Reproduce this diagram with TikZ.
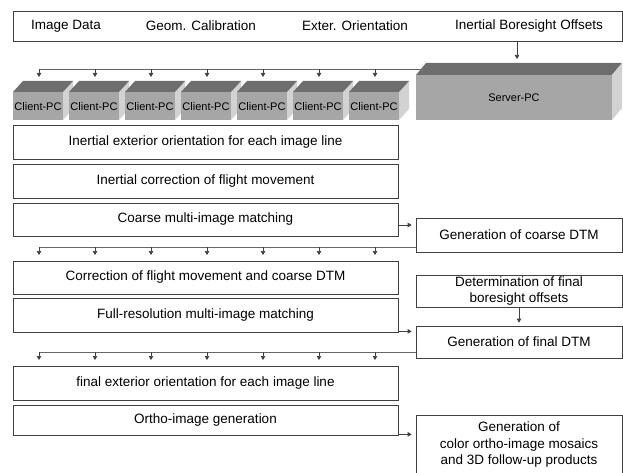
\documentclass[tikz,border=0pt]{standalone}
\usepackage{fontspec}
\setmainfont{Liberation Sans}
\usetikzlibrary{arrows.meta}
\definecolor{topc}{HTML}{6E6E6E}
\definecolor{frontc}{HTML}{A6A6A6}
\definecolor{sidec}{HTML}{D2D2D2}
\definecolor{linec}{HTML}{404040}
\begin{document}
\begin{tikzpicture}[x=1pt,y=-1pt,
  box/.style={draw=linec, line width=0.7pt, fill=white, inner sep=0pt, align=center,
    font=\fontsize{13.5}{16.5}\selectfont},
  lbox/.style={box, minimum width=385pt, minimum height=#1},
  rbox/.style={box, minimum width=206pt, minimum height=#1},
  txt/.style={inner sep=0pt, align=center, font=\fontsize{13.5}{16.5}\selectfont},
  pctxt/.style={inner sep=0pt, font=\fontsize{11}{13}\selectfont},
  arr/.style={draw=linec, line width=0.7pt, -{Triangle[length=4pt,width=4.5pt]}},
  ln/.style={draw=linec!80, line width=0.7pt}]
\useasboundingbox (0,0) rectangle (623,473);

% top input box
\node[box, minimum width=609pt, minimum height=30pt] (top) at (317.5,26) {};
\node[txt] (t1) at (66,26) {Image Data};
\node[txt] (t2) at (201,26) {Geom. Calibration};
\node[txt] (t3) at (355,26) {Exter. Orientation};
\node[txt] (t4) at (529,26) {Inertial Boresight Offsets};

% server
\fill[topc] (416,75) -- (426,63) -- (622,63) -- (612,75) -- cycle;
\fill[sidec] (612,75) -- (622,63) -- (622,108) -- (612,120) -- cycle;
\fill[frontc] (416,75) rectangle (612,120);
\node[pctxt] (server) at (514,98) {Server-PC};
\coordinate (srvtop) at (517,62);
\coordinate (srvedge) at (421,69);
\draw[arr, shorten >=3pt] (top.south -| srvtop) -- (srvtop);

% clients
\foreach \k in {0,...,6}{
  \pgfmathsetmacro{\xl}{13+56*\k}
  \fill[sidec] (\xl+50,92) -- (\xl+60,81) -- (\xl+60,109) -- (\xl+50,120) -- cycle;
  \fill[topc] (\xl,92) -- (\xl+10,81) -- (\xl+60,81) -- (\xl+50,92) -- cycle;
  \fill[frontc] (\xl,92) rectangle (\xl+50,120);
  \node[pctxt] (client\k) at (\xl+25,106.5) {Client-PC};
}
\coordinate (bus1) at (39,69);
\draw[ln] (bus1) -- (srvedge);
\foreach \k in {0,...,6}{
  \coordinate (ca\k) at (39+56*\k,69);
  \draw[arr] (ca\k) -- ++(0,8);
}

% left process boxes
\node[lbox=34pt] (b1) at (205.5,142) {Inertial exterior orientation for each image line};
\node[lbox=34pt] (b2) at (205.5,181) {Inertial correction of flight movement};
\node[lbox=33pt] (b3) at (205.5,219.5) {Coarse multi-image matching};
\node[lbox=33pt] (b5) at (205.5,277.5) {Correction of flight movement and coarse DTM};
\node[lbox=34pt] (b6) at (205.5,315) {Full-resolution multi-image matching};
\node[lbox=34pt] (b8) at (205.5,383) {final exterior orientation for each image line};
\node[lbox=30pt] (b9) at (205.5,420) {Ortho-image generation};

% right boxes
\node[rbox=34pt] (cdtm) at (519,235) {Generation of coarse DTM};
\node[rbox=32pt] (det) at (519,291) {Determination of final\\boresight offsets};
\node[rbox=32pt] (fdtm) at (519,342) {Generation of final DTM};
\node[rbox=66pt] (prod) at (519,448) {};
\node[txt] (prodt) at (519,445) {Generation of\\color ortho-image mosaics\\and 3D follow-up products};

% connectors
\draw[arr, shorten >=4pt] ([yshift=-5.5pt]b3.east) -- ([yshift=-5.5pt]b3.east -| cdtm.west);
\draw[arr, shorten >=3pt] (det.south) -- (fdtm.north);
\draw[arr, shorten >=4pt] ([yshift=1pt]b6.south east) -- ([yshift=1pt]b6.south east -| fdtm.west);
\draw[arr, shorten >=4pt] ([yshift=1pt]b9.south east) -- ([yshift=1pt]b9.south east -| prod.west);

% bus from coarse DTM
\coordinate (bus2) at (39,247);
\draw[ln] (cdtm.west |- bus2) -- (bus2);
\foreach \k in {0,...,6}{
  \coordinate (cb\k) at (39+56*\k,247);
  \draw[arr] (cb\k) -- ++(0,8);
}
% bus from final DTM
\coordinate (bus3) at (39,352);
\draw[ln] (fdtm.west |- bus3) -- (bus3);
\foreach \k in {0,...,6}{
  \coordinate (cc\k) at (39+56*\k,352);
  \draw[arr] (cc\k) -- ++(0,8);
}
\end{tikzpicture}
\end{document}
